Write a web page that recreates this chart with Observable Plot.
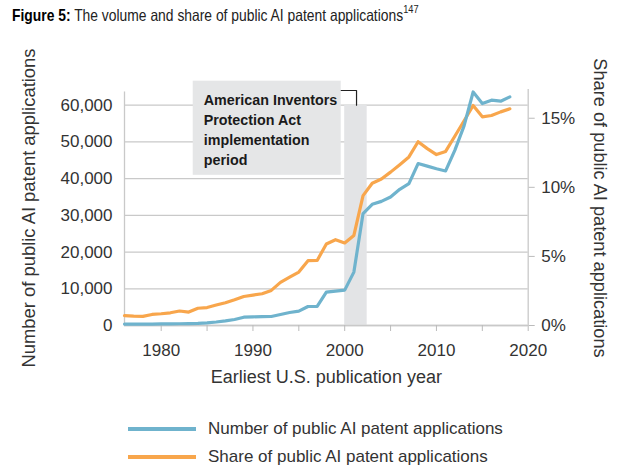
<!DOCTYPE html>
<html>
<head>
<meta charset="utf-8">
<script src="https://cdn.jsdelivr.net/npm/d3@7"></script>
<script src="https://cdn.jsdelivr.net/npm/@observablehq/plot@0.6"></script>
<style>
  body { margin: 0; background: #fff; }
  #wrap { position: relative; width: 623px; height: 467px; overflow: hidden; }
  #chart { position: absolute; left: 0; top: 0; }
  #title { position: absolute; left: 12px; top: 0px; font-family: "Liberation Sans Narrow", "Arial Narrow", "Liberation Sans", Arial, sans-serif; font-size: 16.5px; line-height: 20px; color: #222; white-space: nowrap; transform: scaleX(0.84); transform-origin: 0 0; }
  #title b { color: #000; }
  #title sup { font-size: 11px; position: relative; top: -1px; }
  .lg { position: absolute; left: 0; height: 24px; width: 623px; font-family: "Liberation Sans", Arial, sans-serif; font-size: 17px; color: #333; }
  .lg .sw { position: absolute; left: 128px; top: 10px; width: 68px; height: 4px; }
  .lg .tx { position: absolute; left: 208px; top: 1px; line-height: 22px; white-space: nowrap; }
</style>
</head>
<body>
<div id="wrap">
  <div id="chart"></div>
  <div id="title"><b>Figure 5:</b> The volume and share of public AI patent applications<sup>147</sup></div>
  <div id="legend"></div>
</div>
<script>
// ---- data ----
const years = [1976,1977,1978,1979,1980,1981,1982,1983,1984,1985,1986,1987,1988,1989,1990,1991,1992,1993,1994,1995,1996,1997,1998,1999,2000,2001,2002,2003,2004,2005,2006,2007,2008,2009,2010,2011,2012,2013,2014,2015,2016,2017,2018];
const patentCounts = [400,400,400,400,420,450,480,520,600,740,950,1250,1640,2260,2370,2400,2450,3000,3550,3900,5180,5180,9080,9350,9630,14540,30500,33000,33800,35000,37100,38650,44100,43400,42700,42090,47700,54300,63600,60450,61360,61090,62270];
const sharePct = [0.72,0.68,0.66,0.8,0.85,0.92,1.05,0.97,1.25,1.3,1.48,1.65,1.86,2.1,2.2,2.3,2.54,3.12,3.5,3.87,4.69,4.71,5.9,6.21,5.97,6.52,9.4,10.3,10.6,11.1,11.64,12.2,13.3,12.8,12.37,12.6,13.7,14.8,15.92,15.1,15.2,15.46,15.68];
const countTicks = [0,10000,20000,30000,40000,50000,60000];
const shareTicks = [0,5,10,15];
const yearTicks = [1980,1985,1990,1995,2000,2005,2010,2015,2020];
const seriesNames = ["Number of public AI patent applications","Share of public AI patent applications"];
const seriesColors = ["#6fb3cd","#f8a64c"];
const aipaPeriod = [2000, 2002.45];
const aipaLabel = "American Inventors\nProtection Act\nimplementation\nperiod";
const xTitle = "Earliest U.S. publication year";
// one percentage point of share on the right axis equals this many applications on the left axis
const SHARE_UNIT = 3763;

const countData = years.map((year, i) => ({year, value: patentCounts[i]}));
const shareData = years.map((year, i) => ({year, value: sharePct[i] * SHARE_UNIT}));

const font = "'Liberation Sans', Arial, sans-serif";

const plot = Plot.plot({
  width: 623,
  height: 400,
  marginLeft: 124,
  marginRight: 95.3,
  marginTop: 90,
  marginBottom: 75,
  x: {domain: [1976, 2020]},
  y: {domain: [0, 64000]},
  style: {fontFamily: font, fontSize: "17px", color: "#333", background: "transparent", overflow: "visible"},
  marks: [
    Plot.gridY(countTicks, {stroke: "#c9c9c9", strokeOpacity: 1, strokeWidth: 1.3}),
    Plot.rect([{x1: aipaPeriod[0], x2: aipaPeriod[1], y1: 0, y2: 60000}], {x1: "x1", x2: "x2", y1: "y1", y2: "y2", fill: "#e3e4e6"}),
    Plot.rect([{x1: 1983.49, x2: 1999.62, y1: 40900, y2: 66540}], {x1: "x1", x2: "x2", y1: "y1", y2: "y2", fill: "#e5e6e7"}),
    Plot.line([{x: 1999.62, y: 64000}, {x: 2001.29, y: 64000}, {x: 2001.29, y: 60000}], {x: "x", y: "y", stroke: "#222", strokeWidth: 1.2}),
    Plot.text([aipaLabel], {x: 1984.64, y: 64000, text: d => d, textAnchor: "start", lineAnchor: "top", lineHeight: 1.4, fontSize: 14.3, fontWeight: "bold", fill: "#1a1a1a", fontFamily: font, letterSpacing: "-0.3px"}),
    Plot.ruleX([1976], {y1: 0, y2: 63600, stroke: "#c9c9c9", strokeWidth: 1.3}),
    Plot.ruleX([2020], {y1: 0, y2: 64300, stroke: "#c9c9c9", strokeWidth: 1.3}),
    Plot.ruleY([0], {stroke: "#c9c9c9", strokeWidth: 1.3}),
    Plot.axisY(countTicks, {anchor: "left", tickSize: 0, tickPadding: 12, tickFormat: d => d3.format(",")(d), label: null, fill: "#333"}),
    Plot.axisY(shareTicks.map(p => p * SHARE_UNIT), {anchor: "right", tickSize: 6, tickPadding: 7, tickFormat: d => Math.round(d / SHARE_UNIT) + "%", label: null, stroke: "#bbb", fill: "#333"}),
    Plot.axisX(yearTicks, {anchor: "bottom", tickSize: 6, tickPadding: 12, tickFormat: d => d % 10 === 0 ? String(d) : "", label: null, stroke: "#bbb", fill: "#333"}),
    Plot.line(shareData, {x: "year", y: "value", stroke: seriesColors[1], strokeWidth: 3.2}),
    Plot.line(countData, {x: "year", y: "value", stroke: seriesColors[0], strokeWidth: 3.2}),
    Plot.text([seriesNames[0]], {frameAnchor: "left", dx: -95.5, rotate: -90, textAnchor: "middle", fontSize: 18.4, fill: "#333"}),
    Plot.text([seriesNames[1]], {frameAnchor: "right", dx: 71.8, rotate: 90, textAnchor: "middle", fontSize: 18.2, fill: "#333"}),
    Plot.text([xTitle], {frameAnchor: "bottom", dy: 57, textAnchor: "middle", fontSize: 18, fill: "#333"})
  ]
});
document.getElementById("chart").appendChild(plot);

const legend = document.getElementById("legend");
seriesNames.forEach((name, i) => {
  const row = document.createElement("div");
  row.className = "lg";
  row.style.top = (417 + i * 27.7) + "px";
  row.innerHTML = `<span class="sw" style="background:${seriesColors[i]}"></span><span class="tx">${name}</span>`;
  legend.appendChild(row);
});
</script>
</body>
</html>
